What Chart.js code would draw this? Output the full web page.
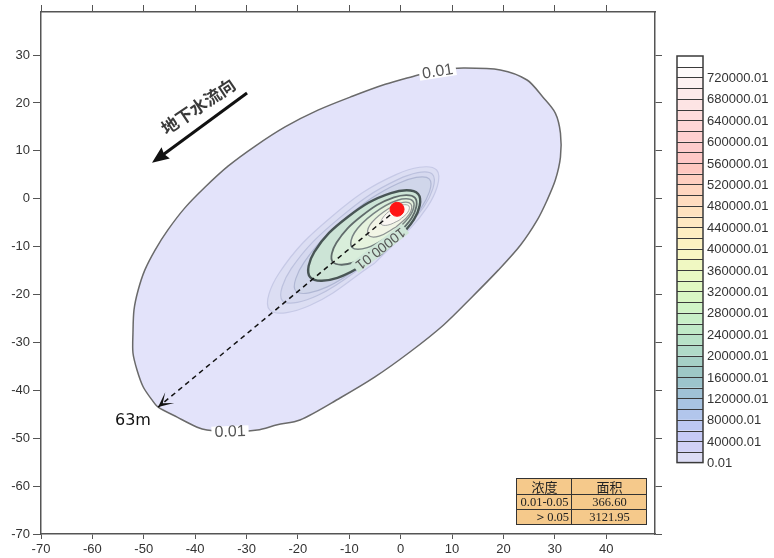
<!DOCTYPE html>
<html>
<head>
<meta charset="utf-8">
<script src="https://cdn.jsdelivr.net/npm/chart.js@4.4.0/dist/chart.umd.min.js"></script>
<style>
  html, body { margin: 0; padding: 0; background: #fff; }
  #wrap { width: 774px; height: 558px; }
</style>
</head>
<body>
<div id="wrap"><canvas id="plume-chart" width="774" height="558"></canvas></div>
<script>
// axis ranges and ticks
const xRange = [-70, 49.5];
const yRange = [-70, 39];
const xTicks = [-70, -60, -50, -40, -30, -20, -10, 0, 10, 20, 30, 40];
const yTicks = [-70, -60, -50, -40, -30, -20, -10, 0, 10, 20, 30];

// 0.01 contour (outer plume edge)
const contourOuter = [
  [3.2, 25.8], [7.7, 26.9], [12.2, 27.3], [19.4, 26.9], [24.6, 24.8], [27.7, 21.2],
  [30.1, 17.9], [31.1, 13.7], [31.1, 8.7], [30.1, 3.9], [28.5, -0.3], [26.6, -4.4],
  [23.3, -9.7], [19.0, -14.9], [13.9, -20.5], [8.3, -26.4], [1.8, -32.0], [-5.0, -37.2],
  [-11.8, -41.6], [-19.6, -46.2], [-24.0, -47.2], [-27.9, -48.3], [-33.2, -48.7], [-37.7, -48.3],
  [-39.6, -47.7], [-43.5, -45.6], [-47.2, -43.5], [-48.4, -42.0], [-50.1, -39.3], [-51.3, -35.8],
  [-52.1, -32.2], [-52.1, -28.0], [-51.9, -23.2], [-51.1, -19.1], [-49.8, -14.9], [-47.8, -10.7],
  [-45.3, -6.5], [-42.0, -1.9], [-38.1, 2.4], [-33.6, 6.8], [-28.3, 11.0], [-22.5, 15.0],
  [-16.1, 18.5], [-9.4, 21.4], [-3.0, 23.9], [3.2, 25.8]
];

// inner contours, outermost first
const contourHalo1 = [[-5.0, -13.4], [-17.7, -22.3], [-25.5, -23.2], [-23.7, -15.6], [-13.5, -3.8], [-0.8, 5.1], [7.0, 6.0], [5.2, -1.7], [-5.0, -13.4]];
const contourHalo2 = [[-4.8, -12.1], [-16.2, -20.2], [-23.0, -21.3], [-21.3, -14.6], [-12.0, -4.1], [-0.6, 4.0], [6.2, 5.1], [4.5, -1.7], [-4.8, -12.1]];
const contourHalo3 = [[-4.2, -11.2], [-14.3, -18.4], [-20.4, -19.3], [-18.8, -13.3], [-10.6, -4.0], [-0.5, 3.2], [5.6, 4.1], [4.0, -1.9], [-4.2, -11.2]];
const contour10000 = [[-3.9, -11.6], [-12.3, -16.5], [-17.6, -16.4], [-16.8, -11.1], [-10.3, -3.8], [-1.9, 1.2], [3.4, 1.0], [2.6, -4.3], [-3.9, -11.6]];
const contourCore1 = [[-2.7, -9.4], [-9.1, -13.3], [-13.2, -13.2], [-12.5, -9.2], [-7.6, -3.6], [-1.3, 0.3], [2.8, 0.2], [2.2, -3.9], [-2.7, -9.4]];
const contourCore2 = [[-1.8, -7.5], [-6.5, -10.2], [-9.5, -10.1], [-9.0, -7.1], [-5.3, -3.1], [-0.6, -0.3], [2.4, -0.5], [1.9, -3.4], [-1.8, -7.5]];
const contourCore3 = [[-0.9, -5.9], [-4.2, -7.8], [-6.3, -7.6], [-6.0, -5.5], [-3.4, -2.8], [-0.1, -0.9], [2.0, -1.1], [1.7, -3.2], [-0.9, -5.9]];
const contourCore4 = [[-0.3, -4.5], [-2.5, -5.5], [-3.8, -5.3], [-3.5, -4.0], [-1.8, -2.3], [0.3, -1.3], [1.6, -1.5], [1.4, -2.8], [-0.3, -4.5]];

// leak source and migration distance line
const sourcePoint = [[-0.7, -2.2]];
const migrationLine = [[-0.7, -2.2], [-47.2, -43.5]];

// colour bar labels (top to bottom)
const legendLabels = [
  '720000.01', '680000.01', '640000.01', '600000.01', '560000.01', '520000.01',
  '480000.01', '440000.01', '400000.01', '360000.01', '320000.01', '280000.01',
  '240000.01', '200000.01', '160000.01', '120000.01', '80000.01', '40000.01', '0.01'
];
const legendColors = [
  '#ffffff', '#fefafa', '#fdf2f2', '#fdeaea', '#fde4e4', '#fedcdc', '#fed6d6', '#fed0d0',
  '#fecccc', '#fec8c6', '#fec8c0', '#fecfc0', '#fed6c0', '#fedcc0', '#fee2c0', '#fee8c2',
  '#feeec2', '#fcf2c2', '#f8f6c2', '#f0f8c2', '#e8f8c2', '#e0f8c2', '#d8f6c4', '#d0f4c6',
  '#c8f0c8', '#c0eac8', '#b8e2c8', '#b0dac8', '#a6d0c6', '#9ec8c6', '#9cc4cc', '#a0c2d6',
  '#a8c4e2', '#b2c6ec', '#bcc8f2', '#c6caf6', '#d0d0f6', '#dcdcf4'
];

// area table
const tableRows = [
  ['浓度', '面积'],
  ['0.01-0.05', '366.60'],
  ['＞0.05', '3121.95']
];

// annotations in data coordinates
const flowArrow = { from: [-29.9, 22.1], to: [-48.4, 7.5], text: '地下水流向', textAt: [-39.4, 19.3] };
const distanceLabel = { text: '63m', at: [-55.6, -47.2] };
const contourLabels = [
  { text: '0.01', at: [7.2, 26.5], angle: -9 },
  { text: '0.01', at: [-33.2, -48.7], angle: -2 },
  { text: '10000.01', at: [-4.0, -10.3], angle: 142 }
];

function contourSet(points, fill, line, width, order) {
  return {
    data: points,
    fill: 'shape',
    backgroundColor: fill,
    borderColor: line,
    borderWidth: width,
    tension: 0.4,
    pointRadius: 0,
    order: order
  };
}

function arrowHead(ctx, tx, ty, fx, fy, len, half, notch) {
  const ang = Math.atan2(ty - fy, tx - fx);
  ctx.save();
  ctx.translate(tx, ty);
  ctx.rotate(ang);
  ctx.beginPath();
  ctx.moveTo(0, 0);
  ctx.lineTo(-len, -half);
  ctx.lineTo(-len + notch, 0);
  ctx.lineTo(-len, half);
  ctx.closePath();
  ctx.fill();
  ctx.restore();
}

const decor = {
  id: 'decor',
  afterDatasetsDraw(chart) {
    const { ctx, chartArea: area, scales } = chart;
    const px = v => scales.x.getPixelForValue(v);
    const py = v => scales.y.getPixelForValue(v);
    ctx.save();

    // contour labels
    contourLabels.forEach((lab, i) => {
      ctx.save();
      ctx.translate(px(lab.at[0]), py(lab.at[1]));
      ctx.rotate(lab.angle * Math.PI / 180);
      ctx.font = i < 2 ? '16px "Liberation Sans"' : '14px "Liberation Sans"';
      const w = ctx.measureText(lab.text).width;
      ctx.fillStyle = i < 2 ? '#ffffff' : '#cfe6d8';
      ctx.fillRect(-w / 2 - 3, -6, w + 6, 12);
      ctx.fillStyle = '#555';
      ctx.textAlign = 'center';
      ctx.textBaseline = 'middle';
      ctx.fillText(lab.text, 0, 0);
      ctx.restore();
    });

    // migration distance arrow head + label
    ctx.fillStyle = '#111';
    arrowHead(ctx, px(migrationLine[1][0]), py(migrationLine[1][1]),
      px(migrationLine[0][0]), py(migrationLine[0][1]), 15, 7, 9);
    ctx.font = '16px "DejaVu Sans"';
    ctx.textAlign = 'left';
    ctx.textBaseline = 'alphabetic';
    ctx.fillText(distanceLabel.text, px(distanceLabel.at[0]), py(distanceLabel.at[1]));

    // groundwater flow arrow
    const ax0 = px(flowArrow.from[0]), ay0 = py(flowArrow.from[1]);
    const ax1 = px(flowArrow.to[0]), ay1 = py(flowArrow.to[1]);
    ctx.strokeStyle = '#111';
    ctx.lineWidth = 3;
    ctx.beginPath();
    ctx.moveTo(ax0, ay0);
    ctx.lineTo(ax1 + (ax0 - ax1) * 0.12, ay1 + (ay0 - ay1) * 0.12);
    ctx.stroke();
    ctx.fillStyle = '#111';
    arrowHead(ctx, ax1, ay1, ax0, ay0, 17, 7, 2);
    ctx.save();
    ctx.translate(px(flowArrow.textAt[0]), py(flowArrow.textAt[1]));
    ctx.rotate(-34 * Math.PI / 180);
    ctx.font = 'bold 17px "Noto Sans CJK SC"';
    ctx.fillStyle = '#3a3a3a';
    ctx.textAlign = 'center';
    ctx.textBaseline = 'middle';
    ctx.fillText(flowArrow.text, 0, 0);
    ctx.restore();

    // area table (bottom right of plot)
    const tx = [area.right - 139, area.right - 84, area.right - 9];
    const ty = [area.bottom - 56, area.bottom - 40, area.bottom - 25, area.bottom - 10];
    ctx.fillStyle = '#f5c98b';
    ctx.fillRect(tx[0], ty[0], tx[2] - tx[0], ty[3] - ty[0]);
    ctx.strokeStyle = '#333';
    ctx.lineWidth = 1;
    ctx.strokeRect(tx[0] + 0.5, ty[0] + 0.5, tx[2] - tx[0], ty[3] - ty[0]);
    ctx.beginPath();
    ctx.moveTo(tx[1] + 0.5, ty[0]); ctx.lineTo(tx[1] + 0.5, ty[3]);
    ctx.moveTo(tx[0], ty[1] + 0.5); ctx.lineTo(tx[2], ty[1] + 0.5);
    ctx.moveTo(tx[0], ty[2] + 0.5); ctx.lineTo(tx[2], ty[2] + 0.5);
    ctx.stroke();
    ctx.fillStyle = '#222';
    ctx.textBaseline = 'middle';
    tableRows.forEach((row, r) => {
      const cy = (ty[r] + ty[r + 1]) / 2 + 1;
      ctx.font = r === 0 ? '13px "Noto Sans CJK SC"' : '12.5px "Liberation Serif"';
      if (r === 2) {
        ctx.textAlign = 'right';
        ctx.fillText(row[0], tx[1] - 2, cy);
      } else {
        ctx.textAlign = 'center';
        ctx.fillText(row[0], (tx[0] + tx[1]) / 2 + 1, cy);
      }
      ctx.textAlign = 'center';
      ctx.fillText(row[1], (tx[1] + tx[2]) / 2 + 1, cy);
    });

    // colour bar
    const bx = area.right + 22, bw = 26, btop = 56, bh = 10.7;
    legendColors.forEach((c, i) => {
      ctx.fillStyle = c;
      ctx.fillRect(bx, btop + i * bh, bw, bh);
    });
    ctx.strokeStyle = '#3a3a3a';
    ctx.lineWidth = 1;
    ctx.beginPath();
    for (let i = 1; i < legendColors.length; i++) {
      const yy = Math.round(btop + i * bh) + 0.5;
      ctx.moveTo(bx, yy);
      ctx.lineTo(bx + bw, yy);
    }
    ctx.stroke();
    ctx.lineWidth = 1.5;
    ctx.strokeRect(bx, btop, bw, legendColors.length * bh);
    ctx.font = '13px "Liberation Sans"';
    ctx.fillStyle = '#333';
    ctx.textAlign = 'left';
    ctx.textBaseline = 'middle';
    legendLabels.forEach((lab, k) => {
      ctx.fillText(lab, bx + bw + 4, btop + (2 + 2 * k) * bh + 1);
    });

    ctx.restore();
  }
};

Chart.defaults.font.family = '"Liberation Sans", Arial, sans-serif';

const axisCommon = {
  type: 'linear',
  border: { display: true, color: '#555', width: 1.5 },
};

new Chart(document.getElementById('plume-chart'), {
  type: 'line',
  data: {
    datasets: [
      {
        data: sourcePoint,
        showLine: false,
        pointRadius: 7,
        pointBackgroundColor: '#ff1414',
        pointBorderColor: '#ff1414',
        order: 0
      },
      {
        data: migrationLine,
        borderColor: '#111',
        borderWidth: 1.5,
        borderDash: [5, 4],
        pointRadius: 0,
        fill: false,
        order: 1
      },
      contourSet(contourCore4, '#fbf7f2', '#a4a6a6', 1, 11),
      contourSet(contourCore3, '#f2f5e6', '#8e9494', 1.2, 12),
      contourSet(contourCore2, '#e6f3de', '#778282', 1.5, 13),
      contourSet(contourCore1, '#d9eedb', '#606b6b', 1.8, 14),
      contourSet(contour10000, '#cce4d6', '#485555', 2.4, 15),
      contourSet(contourHalo3, '#d0d6ea', '#b0b7d4', 1.2, 16),
      contourSet(contourHalo2, '#d6d9ef', '#bcc1de', 1.2, 17),
      contourSet(contourHalo1, '#dcdef3', '#c6c9e6', 1.2, 18),
      Object.assign(contourSet(contourOuter, '#e3e3fa', '#6a6a6a', 1.5, 20), { tension: 0.3 })
    ]
  },
  options: {
    responsive: false,
    animation: false,
    devicePixelRatio: 1,
    plugins: { legend: { display: false }, tooltip: { enabled: false } },
    scales: {
      x: Object.assign({}, axisCommon, {
        position: 'bottom',
        min: xRange[0], max: xRange[1],
        afterBuildTicks: s => { s.ticks = xTicks.map(v => ({ value: v })); },
        afterFit: s => { s.height = 24; },
        grid: { drawOnChartArea: false, drawTicks: true, tickLength: 5, color: '#555' },
        ticks: { color: '#333', font: { size: 13 }, padding: 3, maxRotation: 0, autoSkip: false }
      }),
      xTop: Object.assign({}, axisCommon, {
        position: 'top',
        min: xRange[0], max: xRange[1],
        afterBuildTicks: s => { s.ticks = xTicks.map(v => ({ value: v })); },
        afterFit: s => { s.height = 12; },
        grid: { drawOnChartArea: false, drawTicks: true, tickLength: 7, color: '#555' },
        ticks: { display: false }
      }),
      y: Object.assign({}, axisCommon, {
        position: 'left',
        min: yRange[0], max: yRange[1],
        afterBuildTicks: s => { s.ticks = yTicks.map(v => ({ value: v })); },
        afterFit: s => { s.width = 41; },
        grid: { drawOnChartArea: false, drawTicks: true, tickLength: 8, color: '#555' },
        ticks: { color: '#333', font: { size: 13 }, padding: 3, autoSkip: false }
      }),
      yRight: Object.assign({}, axisCommon, {
        position: 'right',
        min: yRange[0], max: yRange[1],
        afterBuildTicks: s => { s.ticks = yTicks.map(v => ({ value: v })); },
        afterFit: s => { s.width = 119; },
        grid: { drawOnChartArea: false, drawTicks: true, tickLength: 7, color: '#555' },
        ticks: { display: false }
      })
    }
  },
  plugins: [decor]
});
</script>
</body>
</html>
